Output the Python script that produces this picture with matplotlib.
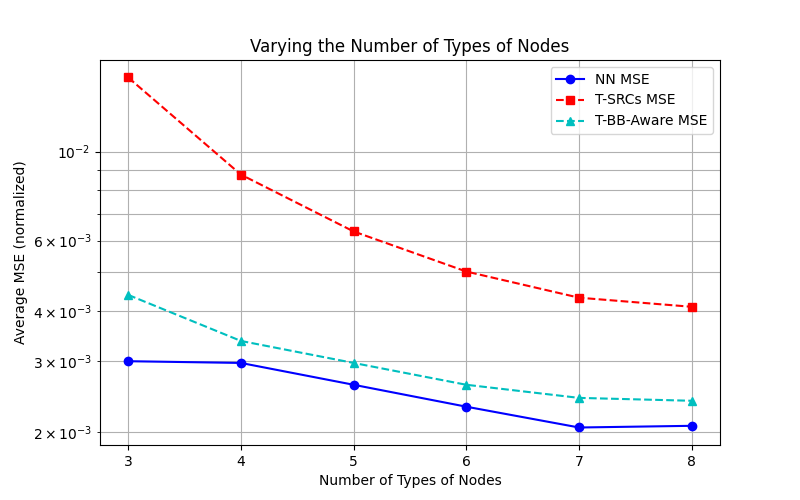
import matplotlib
matplotlib.use("Agg")
import matplotlib.pyplot as plt

num_types = [3, 4, 5, 6, 7, 8]
nn_mse = [3.00e-3, 2.97e-3, 2.62e-3, 2.31e-3, 2.05e-3, 2.07e-3]
tsrcs_mse = [1.53e-2, 8.76e-3, 6.32e-3, 5.02e-3, 4.32e-3, 4.10e-3]
tbb_mse = [4.39e-3, 3.37e-3, 2.97e-3, 2.62e-3, 2.43e-3, 2.39e-3]

fig, ax = plt.subplots(figsize=(8, 5), dpi=100)
ax.plot(num_types, nn_mse, 'b-o', label='NN MSE')
ax.plot(num_types, tsrcs_mse, 'r--s', label='T-SRCs MSE')
ax.plot(num_types, tbb_mse, 'c--^', label='T-BB-Aware MSE')
ax.set_yscale('log')
ax.set_xlabel('Number of Types of Nodes')
ax.set_ylabel('Average MSE (normalized)')
ax.set_title('Varying the Number of Types of Nodes')
ax.grid(True, which='both')
ax.legend(loc='upper right')
fig.savefig('out.png')
